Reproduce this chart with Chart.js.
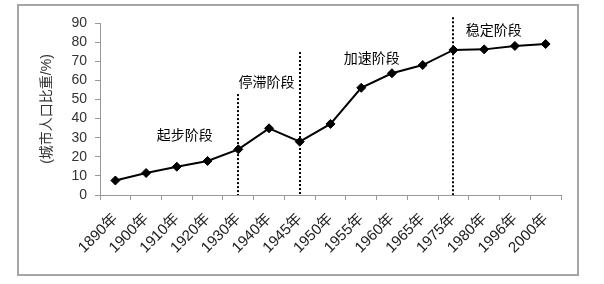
<!DOCTYPE html>
<html>
<head>
<meta charset="utf-8">
<script src="https://cdn.jsdelivr.net/npm/chart.js@4/dist/chart.umd.min.js"></script>
<style>
  html, body { margin: 0; padding: 0; background: #fff; }
</style>
</head>
<body>
<canvas id="chart" width="604" height="284"></canvas>
<script>
var years = ['1890年', '1900年', '1910年', '1920年', '1930年', '1940年', '1945年', '1950年',
             '1955年', '1960年', '1965年', '1975年', '1980年', '1996年', '2000年'];
var urbanShare = [7.6, 11.5, 14.8, 17.8, 23.9, 34.9, 27.9, 37.2, 56.1, 63.7, 68.0, 75.9, 76.2, 78.0, 79.0];

// y 轴刻度
var yMin = 0, yMax = 90, yStep = 10;

// 阶段名称及位置 (类别序号, 数值)
var phaseNames = ['起步阶段', '停滞阶段', '加速阶段', '稳定阶段'];
var phaseX = [2.26, 4.92, 8.34, 12.31];
var phaseY = [30.9, 58.6, 71.2, 85.8];

// 分界虚线
var dividerAt = ['1930年', '1945年', '1975年'];
var dividerTop = [52.8, 74.8, 93];

var fontFamily = "'Liberation Sans', 'Noto Sans CJK SC', sans-serif";

var phasePlugin = {
    id: 'phases',
    beforeDraw: function (chart) {
        var ctx = chart.ctx;
        ctx.save();
        ctx.fillStyle = '#fff';
        ctx.fillRect(0, 0, chart.width, chart.height);
        ctx.strokeStyle = '#a6a6a6';
        ctx.lineWidth = 2;
        ctx.strokeRect(18, 5, 560, 270);
        ctx.restore();
    },
    beforeDatasetsDraw: function (chart) {
        var ctx = chart.ctx, x = chart.scales.x, y = chart.scales.y;
        ctx.save();
        ctx.strokeStyle = '#000';
        ctx.lineWidth = 2;
        ctx.setLineDash([2, 2]);
        dividerAt.forEach(function (lbl, i) {
            var px = Math.round(x.getPixelForValue(years.indexOf(lbl)));
            ctx.beginPath();
            ctx.moveTo(px, y.getPixelForValue(dividerTop[i]));
            ctx.lineTo(px, y.getPixelForValue(0));
            ctx.stroke();
        });
        ctx.restore();
    },
    afterDatasetsDraw: function (chart) {
        var ctx = chart.ctx, x = chart.scales.x, y = chart.scales.y;
        ctx.save();
        ctx.fillStyle = '#000';
        ctx.font = '14px ' + fontFamily;
        ctx.textAlign = 'center';
        ctx.textBaseline = 'middle';
        phaseNames.forEach(function (name, i) {
            ctx.fillText(name, x.getPixelForValue(phaseX[i]), y.getPixelForValue(phaseY[i]));
        });
        ctx.restore();
    }
};

var ctx = document.getElementById('chart').getContext('2d');
var chart = new Chart(ctx, {
    type: 'line',
    data: {
        labels: years,
        datasets: [{
            data: urbanShare,
            borderColor: '#000',
            backgroundColor: '#000',
            borderWidth: 2,
            pointStyle: 'rectRot',
            pointRadius: 4.5,
            pointBorderWidth: 1,
            tension: 0
        }]
    },
    options: {
        responsive: false,
        animation: false,
        layout: { padding: { left: 39, top: 23, right: 43, bottom: 0 } },
        plugins: {
            legend: { display: false },
            tooltip: { enabled: false }
        },
        scales: {
            x: {
                offset: true,
                grid: { offset: true, drawOnChartArea: false, drawTicks: true, tickLength: 5, color: '#999' },
                border: { color: '#999', width: 1 },
                ticks: {
                    color: '#222',
                    font: { family: fontFamily, size: 15 },
                    minRotation: 45,
                    maxRotation: 45,
                    autoSkip: false,
                    padding: 10
                },
                afterFit: function (s) { s.height = 89; }
            },
            y: {
                min: yMin,
                max: yMax,
                ticks: {
                    stepSize: yStep,
                    autoSkip: false,
                    maxTicksLimit: 20,
                    color: '#333',
                    font: { family: fontFamily, size: 14 },
                    padding: 8
                },
                grid: { drawOnChartArea: false, drawTicks: true, tickLength: 5, color: '#999' },
                border: { color: '#999', width: 1 },
                title: {
                    display: true,
                    text: '(城市人口比重/%)',
                    color: '#333',
                    font: { family: fontFamily, size: 14 },
                    padding: { top: 0, bottom: 0 }
                },
                afterFit: function (s) { s.width = 61; }
            }
        }
    },
    plugins: [phasePlugin]
});
</script>
</body>
</html>
